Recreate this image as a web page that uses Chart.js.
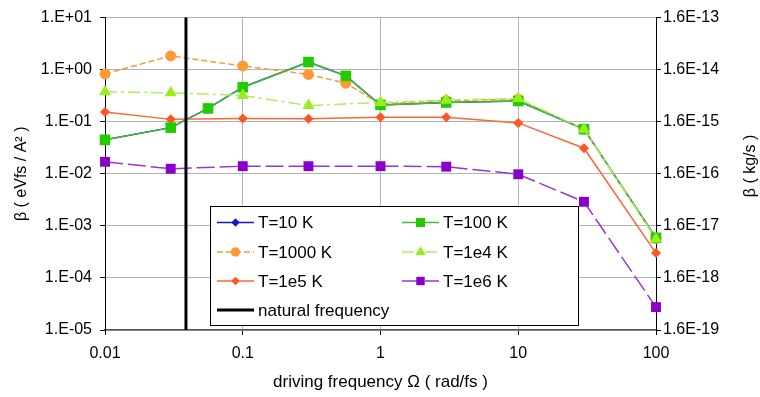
<!DOCTYPE html>
<html>
<head>
<meta charset="utf-8">
<script src="https://cdn.jsdelivr.net/npm/chart.js@4.4.0/dist/chart.umd.min.js"></script>
<style>
  body { margin: 0; background: #fff; }
</style>
</head>
<body>
<canvas id="chart" width="760" height="397"></canvas>
<script>
// driving frequencies (rad/fs)
const freqMain = [0.01, 0.03, 0.1, 0.3, 1, 3, 10, 30, 100];
const freq100K = [0.01, 0.03, 0.056, 0.1, 0.3, 0.56, 1, 3, 10, 30, 100];
const freq1000K = [0.01, 0.03, 0.1, 0.3, 0.56, 1, 3, 10, 30, 100];

// beta ( eVfs / A^2 )
const beta10K = [0.045, 0.077, 0.18, 0.46, 1.4, 0.76, 0.21, 0.234, 0.25, 0.072, 0.00059];
const beta100K = [0.045, 0.077, 0.18, 0.46, 1.4, 0.76, 0.21, 0.234, 0.25, 0.072, 0.00059];
const beta1000K = [0.83, 1.84, 1.18, 0.81, 0.55, 0.22, 0.255, 0.27, 0.072, 0.00057];
const beta1e4K = [0.376, 0.36, 0.32, 0.205, 0.234, 0.26, 0.28, 0.072, 0.00056];
const beta1e5K = [0.153, 0.111, 0.116, 0.114, 0.122, 0.122, 0.095, 0.031, 0.0003];
const beta1e6K = [0.017, 0.0125, 0.014, 0.014, 0.014, 0.0137, 0.0098, 0.0029, 0.0000275];

const naturalFrequency = 0.0387;
const naturalLineY = [0.00001, 10];

// axis ticks
const xTicks = [0.01, 0.1, 1, 10, 100];
const xTickLabels = ["0.01", "0.1", "1", "10", "100"];
const leftTicks = [1e-5, 1e-4, 1e-3, 1e-2, 1e-1, 1, 10];
const leftTickLabels = ["1.E-05", "1.E-04", "1.E-03", "1.E-02", "1.E-01", "1.E+00", "1.E+01"];
const rightTicks = [1.6e-19, 1.6e-18, 1.6e-17, 1.6e-16, 1.6e-15, 1.6e-14, 1.6e-13];
const rightTickLabels = ["1.6E-19", "1.6E-18", "1.6E-17", "1.6E-16", "1.6E-15", "1.6E-14", "1.6E-13"];

function pts(xs, ys) {
    return xs.map((x, i) => ({ x: x, y: ys[i] }));
}

const FONT = "'Liberation Sans', Arial, sans-serif";
Chart.defaults.font.family = FONT;
Chart.defaults.color = "#000";

const series = [
    { label: "T=10 K", data: pts(freq100K, beta10K), borderColor: "#1a1ab8", pointBackgroundColor: "#1a1ab8",
      pointStyle: "rectRot", pointRadius: 5, borderDash: [], order: 6 },
    { label: "T=100 K", data: pts(freq100K, beta100K), borderColor: "#44bb33", pointBackgroundColor: "#22cc00",
      pointStyle: "rect", pointRadius: 7.5, borderDash: [], order: 2 },
    { label: "T=1000 K", data: pts(freq1000K, beta1000K), borderColor: "#ff9933", pointBackgroundColor: "#ff9933",
      pointStyle: "circle", pointRadius: 5.5, borderDash: [6, 3], order: 3 },
    { label: "T=1e4 K", data: pts(freqMain, beta1e4K), borderColor: "#aaf060", pointBackgroundColor: "#99ee22",
      pointStyle: "triangle", pointRadius: 7, borderDash: [12, 4, 3, 4], order: 1 },
    { label: "T=1e5 K", data: pts(freqMain, beta1e5K), borderColor: "#ff6633", pointBackgroundColor: "#ff5522",
      pointStyle: "rectRot", pointRadius: 5, borderDash: [], order: 4 },
    { label: "T=1e6 K", data: pts(freqMain, beta1e6K), borderColor: "#9933dd", pointBackgroundColor: "#8800cc",
      pointStyle: "rect", pointRadius: 7, borderDash: [18, 5], order: 5 },
    { label: "natural frequency", data: naturalLineY.map(y => ({ x: naturalFrequency, y: y })), borderColor: "#000",
      pointRadius: 0, borderWidth: 3, borderDash: [], order: 0 }
];

const datasets = series.map(s => Object.assign({
    borderWidth: 1.5,
    pointBorderWidth: 0,
    pointBorderColor: "rgba(0,0,0,0)",
    pointHoverRadius: 0,
    fill: false,
    tension: 0,
    clip: false
}, s));

function drawMarker(ctx, style, color, x, y, r) {
    ctx.save();
    ctx.fillStyle = color;
    ctx.beginPath();
    if (style === "rect") {
        const h = r * Math.SQRT1_2;
        ctx.rect(x - h, y - h, 2 * h, 2 * h);
    } else if (style === "rectRot") {
        ctx.moveTo(x, y - r); ctx.lineTo(x + r, y); ctx.lineTo(x, y + r); ctx.lineTo(x - r, y);
        ctx.closePath();
    } else if (style === "triangle") {
        ctx.moveTo(x, y - r); ctx.lineTo(x + r * 0.87, y + r * 0.5); ctx.lineTo(x - r * 0.87, y + r * 0.5);
        ctx.closePath();
    } else if (style === "circle") {
        ctx.arc(x, y, r, 0, Math.PI * 2);
    }
    ctx.fill();
    ctx.restore();
}

// legend box inside the plot + right axis title (reads bottom to top)
const customDraw = {
    id: "customDraw",
    afterDraw(chart) {
        const ctx = chart.ctx;
        ctx.save();
        ctx.fillStyle = "#fff";
        ctx.fillRect(210.5, 206.5, 368, 119);
        ctx.strokeStyle = "#000";
        ctx.lineWidth = 1;
        ctx.strokeRect(210.5, 206.5, 368, 119);

        const rowsY = [222.5, 252, 281, 310];
        const colsX = [217, 402];
        ctx.font = "17px " + FONT;
        ctx.textBaseline = "middle";
        ctx.textAlign = "left";
        datasets.forEach((ds, i) => {
            const x0 = colsX[i % 2];
            const y = rowsY[Math.floor(i / 2)];
            ctx.save();
            ctx.strokeStyle = ds.borderColor;
            ctx.lineWidth = ds.borderWidth;
            ctx.setLineDash(ds.borderDash);
            ctx.beginPath();
            ctx.moveTo(x0, y);
            ctx.lineTo(x0 + 37, y);
            ctx.stroke();
            ctx.restore();
            if (ds.pointRadius > 0) {
                drawMarker(ctx, ds.pointStyle, ds.pointBackgroundColor, x0 + 18.5, y, ds.pointRadius * 0.85);
            }
            ctx.fillStyle = "#000";
            ctx.fillText(ds.label, x0 + 41, y + 1);
        });

        ctx.translate(751, 166);
        ctx.rotate(-Math.PI / 2);
        ctx.textAlign = "center";
        ctx.font = "16px " + FONT;
        ctx.fillText("\u03b2 ( kg/s )", 0, 0);
        ctx.restore();
    }
};

new Chart(document.getElementById("chart"), {
    type: "line",
    data: { datasets: datasets },
    options: {
        responsive: false,
        animation: false,
        events: [],
        layout: { padding: { top: 12, left: 0, right: 0, bottom: 0 } },
        plugins: {
            legend: { display: false },
            tooltip: { enabled: false }
        },
        scales: {
            x: {
                type: "logarithmic",
                min: 0.01,
                max: 100,
                afterBuildTicks: s => { s.ticks = xTicks.map(v => ({ value: v })); },
                afterFit: s => { s.height = 67; },
                ticks: {
                    autoSkip: false,
                    maxRotation: 0,
                    padding: 9,
                    font: { size: 16 },
                    callback: (v, i) => xTickLabels[i]
                },
                grid: { color: "#b3b3b3", tickColor: "#000", tickLength: 5 },
                border: { color: "#555", width: 1.5 },
                title: {
                    display: true,
                    text: "driving frequency \u03a9 ( rad/fs )",
                    font: { size: 17 },
                    padding: { top: 0, bottom: 4 }
                }
            },
            y: {
                type: "logarithmic",
                position: "left",
                min: 1e-5,
                max: 10,
                afterBuildTicks: s => { s.ticks = leftTicks.map(v => ({ value: v })); },
                afterFit: s => { s.width = 105; },
                ticks: {
                    autoSkip: false,
                    padding: 8,
                    font: { size: 16 },
                    callback: (v, i) => leftTickLabels[i]
                },
                grid: { color: "#b3b3b3", tickColor: "#000", tickLength: 5 },
                border: { color: "#000", width: 1 },
                title: {
                    display: true,
                    text: "\u03b2 ( eVfs / A\u00b2 )",
                    font: { size: 16 },
                    padding: { top: 12, bottom: 0 }
                }
            },
            y1: {
                type: "logarithmic",
                position: "right",
                min: 1.6e-19,
                max: 1.6e-13,
                afterBuildTicks: s => { s.ticks = rightTicks.map(v => ({ value: v })); },
                afterFit: s => { s.width = 104; },
                ticks: {
                    autoSkip: false,
                    padding: 2,
                    font: { size: 16 },
                    callback: (v, i) => rightTickLabels[i]
                },
                grid: { drawOnChartArea: false, tickColor: "#000", tickLength: 5 },
                border: { color: "#000", width: 1 }
            }
        }
    },
    plugins: [customDraw]
});
</script>
</body>
</html>
